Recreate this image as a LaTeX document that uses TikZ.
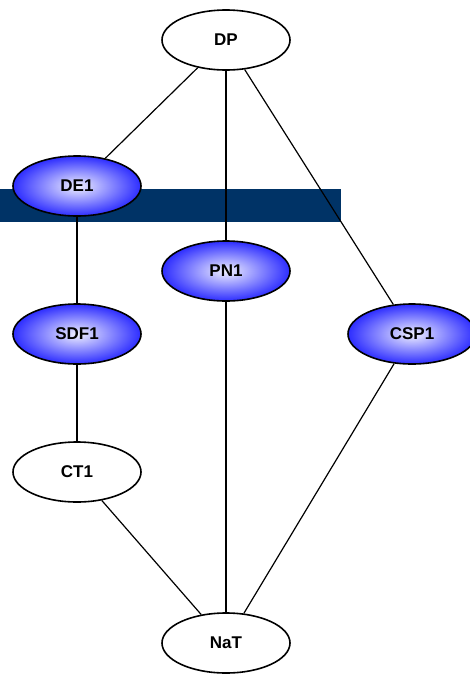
\documentclass[tikz,border=0pt]{standalone}
\usepackage{fontspec}
\setmainfont{Liberation Sans}
\usetikzlibrary{shapes.geometric, positioning}
\definecolor{navybar}{RGB}{0,51,102}
\definecolor{nodeblue}{RGB}{45,45,255}

\begin{document}
\begin{tikzpicture}[x=1pt, y=-1pt,
    plain/.style={ellipse, draw, line width=1.6pt, fill=white,
        minimum width=128pt, minimum height=60pt, inner sep=0pt,
        font=\fontsize{17}{19}\selectfont\bfseries},
    shaded/.style={plain, inner color=blue!6, outer color=nodeblue},
    link/.style={line width=1.2pt}]

    \useasboundingbox (0,0) rectangle (470,675);

    % =================================================================
    % 1. DAI NEN XANH DAM
    % =================================================================
    \fill[navybar] (0,189) rectangle (341,222);

    % =================================================================
    % 2. CAC NUT
    % =================================================================
    \node[plain]  (DP)   at (226,40)  {DP};
    \node[shaded] (DE1)  at (77,186)  {DE1};
    \node[shaded] (PN1)  at (226,271) {PN1};
    \node[shaded] (SDF1) at (77,334)  {SDF1};
    \node[shaded] (CSP1) at (412,334) {CSP1};
    \node[plain]  (CT1)  at (77,472)  {CT1};
    \node[plain]  (NaT)  at (226,643) {NaT};

    % =================================================================
    % 3. CAC DUONG NOI
    % =================================================================
    \draw[link] (DP) -- (DE1);
    \draw[link] (DP) -- (PN1);
    \draw[link] (DP) -- (CSP1);
    \draw[link] (DE1) -- (SDF1);
    \draw[link] (SDF1) -- (CT1);
    \draw[link] (CT1) -- (NaT);
    \draw[link] (PN1) -- (NaT);
    \draw[link] (CSP1) -- (NaT);

\end{tikzpicture}
\end{document}
